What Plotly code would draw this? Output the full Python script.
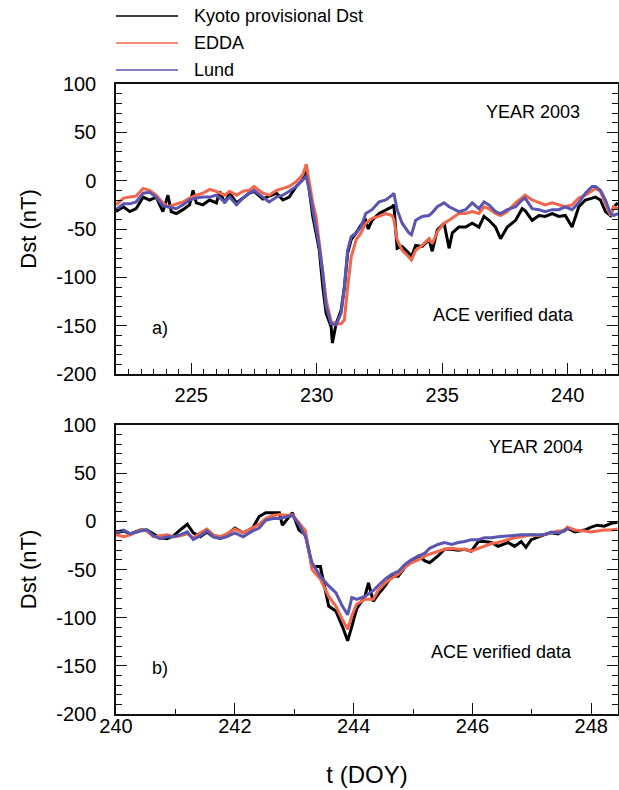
import plotly.graph_objects as go

# ---------------- DATA: YEAR 2003 (panel a) ----------------
t03_kyoto = [222.0, 222.3, 222.55, 222.8, 223.08, 223.34, 223.6, 223.87, 224.07, 224.2, 224.4, 224.67,
             224.93, 225.07, 225.2, 225.46, 225.73, 226.0, 226.13, 226.33, 226.53, 226.8, 227.06, 227.3,
             227.5, 227.85, 228.1, 228.4, 228.65, 228.9, 229.18, 229.44, 229.58, 229.7, 229.84, 229.97,
             230.1, 230.24, 230.37, 230.57, 230.62, 230.77, 230.97, 231.1, 231.23, 231.37, 231.57, 231.76,
             231.95, 232.05, 232.2, 232.48, 232.75, 233.0, 233.07, 233.2, 233.4, 233.67, 233.77, 233.94,
             234.2, 234.47, 234.6, 234.8, 235.07, 235.27, 235.4, 235.66, 235.93, 236.19, 236.46, 236.66,
             236.86, 237.12, 237.32, 237.59, 237.92, 238.18, 238.3, 238.58, 238.85, 239.1, 239.38, 239.64,
             239.9, 240.17, 240.44, 240.7, 240.97, 241.1, 241.3, 241.5, 241.7, 241.83, 242.0]
dst03_kyoto = [-32, -27, -32, -29, -17, -20, -17, -32, -15, -32, -34, -30,
               -25, -10, -23, -25, -20, -23, -11, -23, -13, -23, -18, -13,
               -11, -19, -16, -13, -20, -17, -6, 1, 14, -10, -37, -54,
               -72, -110, -137, -151, -168, -148, -134, -110, -75, -61, -54, -46,
               -41, -50, -41, -34, -30, -27, -25, -70, -68, -75, -79, -67,
               -68, -61, -73, -51, -44, -70, -54, -48, -48, -44, -48, -37,
               -41, -48, -60, -48, -41, -29, -31, -41, -36, -37, -34, -37,
               -36, -48, -27, -20, -18, -17, -20, -32, -36, -27, -23]

t03_model = [222.0, 222.3, 222.55, 222.8, 223.08, 223.34, 223.6, 223.87, 224.07, 224.4, 224.67, 224.93,
             225.2, 225.46, 225.73, 226.0, 226.33, 226.53, 226.8, 227.06, 227.3, 227.5, 227.85, 228.1,
             228.4, 228.65, 228.9, 229.18, 229.44, 229.58, 229.7, 229.84, 229.97, 230.1, 230.24, 230.37,
             230.57, 230.77, 230.97, 231.1, 231.23, 231.37, 231.57, 231.76, 231.95, 232.2, 232.48, 232.75,
             233.0, 233.07, 233.2, 233.4, 233.67, 233.77, 233.94, 234.2, 234.47, 234.6, 234.8, 235.07,
             235.27, 235.66, 235.93, 236.19, 236.46, 236.66, 236.86, 237.12, 237.32, 237.59, 237.92, 238.18,
             238.3, 238.58, 238.85, 239.1, 239.38, 239.64, 239.9, 240.17, 240.44, 240.7, 240.97, 241.1,
             241.3, 241.5, 241.7, 241.83, 242.0]
dst03_edda = [-25, -18, -17, -16, -8, -10, -15, -23, -27, -24, -22, -18,
              -15, -13, -9, -11, -15, -11, -15, -11, -10, -6, -13, -15,
              -10, -8, -6, -1, 6, 17, -3, -23, -37, -65, -92, -123,
              -146, -148, -148, -144, -110, -79, -61, -54, -44, -39, -37, -34,
              -36, -40, -61, -72, -79, -82, -72, -67, -60, -65, -53, -44,
              -41, -34, -34, -32, -34, -27, -29, -34, -36, -32, -23, -17,
              -15, -20, -23, -25, -23, -25, -27, -25, -18, -15, -10, -8,
              -11, -23, -36, -27, -29]
dst03_lund = [-30, -24, -24, -22, -13, -12, -17, -26, -27, -29, -25, -20,
              -18, -17, -17, -15, -22, -17, -25, -18, -13, -10, -17, -22,
              -17, -15, -11, -6, 1, 4, -10, -30, -51, -68, -96, -130,
              -148, -149, -137, -110, -72, -58, -54, -48, -34, -30, -22, -20,
              -15, -13, -30, -44, -54, -56, -41, -37, -36, -33, -27, -23,
              -27, -32, -30, -23, -29, -22, -25, -32, -34, -30, -27, -20,
              -18, -29, -30, -32, -30, -30, -27, -30, -23, -13, -6, -6,
              -10, -20, -34, -36, -34]

# ---------------- DATA: YEAR 2004 (panel b) ----------------
t04_kyoto = [240.0, 240.13, 240.24, 240.41, 240.52, 240.63, 240.74, 240.86, 240.97, 241.08, 241.2, 241.3,
             241.42, 241.53, 241.64, 241.75, 241.86, 242.0, 242.14, 242.3, 242.41, 242.52, 242.64, 242.75,
             242.8, 242.89, 242.97, 243.08, 243.19, 243.3, 243.44, 243.58, 243.7, 243.81, 243.9, 243.97,
             244.05, 244.19, 244.25, 244.33, 244.41, 244.53, 244.64, 244.75, 244.86, 244.97, 245.09, 245.2,
             245.28, 245.42, 245.53, 245.65, 245.76, 245.87, 245.98, 246.1, 246.2, 246.32, 246.43, 246.6,
             246.71, 246.82, 246.9, 246.99, 247.1, 247.2, 247.33, 247.44, 247.55, 247.6, 247.72, 247.89,
             248.0, 248.1, 248.22, 248.34, 248.44]
dst04_kyoto = [-12, -10, -13, -9, -9, -13, -17, -18, -15, -9, -3, -12,
               -16, -11, -16, -17, -14, -7, -12, -7, 5, 9, 9, 9,
               -4, 3, 9, -9, -14, -47, -47, -88, -93, -109, -124, -109,
               -91, -78, -64, -83, -76, -67, -57, -57, -48, -41, -36, -41,
               -43, -36, -29, -29, -30, -29, -31, -21, -21, -22, -26, -22,
               -26, -21, -27, -19, -16, -14, -12, -13, -9, -7, -11, -9,
               -6, -4, -5, -2, -1]

t04_edda = [240.0, 240.13, 240.24, 240.41, 240.52, 240.63, 240.74, 240.86, 240.97, 241.08, 241.2, 241.3,
            241.42, 241.53, 241.64, 241.75, 241.86, 242.0, 242.14, 242.3, 242.41, 242.52, 242.64, 242.75,
            242.89, 242.97, 243.08, 243.19, 243.3, 243.44, 243.58, 243.7, 243.81, 243.9, 243.97, 244.05,
            244.19, 244.33, 244.41, 244.53, 244.64, 244.75, 244.86, 244.97, 245.09, 245.2, 245.28, 245.42,
            245.53, 245.65, 245.76, 245.87, 245.98, 246.1, 246.2, 246.32, 246.43, 246.6, 246.71, 246.82,
            246.9, 246.99, 247.1, 247.2, 247.33, 247.44, 247.55, 247.6, 247.72, 247.89, 248.0, 248.1,
            248.22, 248.34, 248.44]
dst04_edda = [-14, -16, -14, -9, -10, -16, -15, -14, -16, -15, -13, -17,
              -12, -8, -14, -16, -13, -8, -12, -7, -3, 3, 6, 7,
              6, 7, -2, -10, -50, -60, -78, -88, -102, -112, -98, -86,
              -81, -81, -72, -64, -59, -55, -48, -43, -40, -36, -34, -31,
              -29, -28, -29, -29, -31, -28, -26, -23, -22, -19, -17, -16,
              -15, -14, -15, -14, -12, -10, -10, -6, -9, -10, -11, -10,
              -9, -9, -8]

t04_lund = [240.0, 240.13, 240.24, 240.41, 240.52, 240.63, 240.74, 240.86, 240.97, 241.08, 241.2, 241.3,
            241.42, 241.53, 241.64, 241.75, 241.86, 242.0, 242.14, 242.3, 242.41, 242.52, 242.64, 242.75,
            242.89, 242.97, 243.08, 243.19, 243.3, 243.44, 243.58, 243.7, 243.81, 243.9, 243.97, 244.05,
            244.19, 244.33, 244.41, 244.53, 244.64, 244.75, 244.86, 244.97, 245.09, 245.2, 245.28, 245.42,
            245.53, 245.65, 245.76, 245.87, 245.98, 246.1, 246.2, 246.32, 246.43, 246.6, 246.71, 246.82,
            246.9, 246.99, 247.1, 247.2, 247.33, 247.44, 247.55, 247.62]
dst04_lund = [-11, -9, -13, -10, -9, -15, -18, -16, -16, -14, -11, -19,
              -15, -10, -16, -18, -16, -12, -16, -10, -7, 1, 3, 3,
              5, 6, -3, -16, -43, -57, -67, -74, -88, -97, -79, -81,
              -78, -72, -67, -60, -55, -52, -45, -40, -36, -33, -28, -24,
              -22, -24, -22, -21, -19, -19, -17, -17, -16, -15, -14, -14,
              -14, -14, -14, -14, -11, -12, -10, -7]

series_names = ["Kyoto provisional Dst", "EDDA", "Lund"]
x_ticks_a = [225, 230, 235, 240]
x_ticks_b = [240, 242, 244, 246, 248]
y_ticks = [100, 50, 0, -50, -100, -150, -200]
y_ticklabels = ["100", "50", "0", "-50", "-100", "-150", "-200"]

# ---------------- STYLE ----------------
FONT = "Liberation Sans, Arial, Helvetica, sans-serif"
C_BLACK = "#000000"
C_RED = "#F2664B"
C_BLUE = "#5B55B2"
colors = [C_BLACK, C_RED, C_BLUE]
LW = 3.0

fig = go.Figure()

panel_a = [(t03_kyoto, dst03_kyoto), (t03_model, dst03_edda), (t03_model, dst03_lund)]
panel_b = [(t04_kyoto, dst04_kyoto), (t04_edda, dst04_edda), (t04_lund, dst04_lund)]

for (tx, vy), name, col in zip(panel_a, series_names, colors):
    fig.add_trace(go.Scatter(x=tx, y=vy, mode="lines", name=name, showlegend=False,
                             line=dict(color=col, width=LW), xaxis="x", yaxis="y"))
for (tx, vy), name, col in zip(panel_b, series_names, colors):
    fig.add_trace(go.Scatter(x=tx, y=vy, mode="lines", name=name, showlegend=False,
                             line=dict(color=col, width=LW), xaxis="x2", yaxis="y2"))

W, H = 619, 790
ML, MR, MT, MB = 116, 1, 84, 76
PW = W - ML - MR
PH = H - MT - MB


def px_x(px):
    return (px - ML) / PW


def px_y(py):
    return (H - MB - py) / PH


axis_common = dict(showgrid=False, zeroline=False, showline=True, linecolor="#111111",
                   linewidth=1.5, ticks="inside", tickcolor="#111111", tickwidth=1.2,
                   tickfont=dict(family=FONT, size=20, color="#000000"))

ydom_a = [px_y(374), 1.0]
ydom_b = [0.0, px_y(425)]

y_common = dict(range=[-200, 100], tickvals=y_ticks, ticktext=y_ticklabels, ticklen=11,
                mirror="ticks", ticklabelstandoff=14,
                minor=dict(dtick=10, tick0=0, ticklen=6, ticks="inside", tickcolor="#111111", tickwidth=1),
                title=dict(text="Dst (nT)", font=dict(family=FONT, size=22), standoff=14))

fig.update_layout(
    width=W, height=H,
    margin=dict(l=ML, r=MR, t=MT, b=MB, autoexpand=False),
    paper_bgcolor="white", plot_bgcolor="white",
    font=dict(family=FONT, size=18, color="#000000"),
    showlegend=False,
    xaxis=dict(**axis_common, domain=[0, 1], anchor="y", range=[222, 242],
               tickvals=x_ticks_a, ticklen=11, mirror=True, ticklabelstandoff=2,
               minor=dict(dtick=0.5, tick0=0, ticklen=5, ticks="inside", tickcolor="#111111", tickwidth=1)),
    yaxis=dict(**axis_common, domain=ydom_a, anchor="x", **y_common),
    xaxis2=dict(**axis_common, domain=[0, 1], anchor="y2", range=[240, 248.45],
                tickvals=x_ticks_b, ticklen=11, mirror=True, ticklabelstandoff=-7,
                minor=dict(dtick=1, tick0=0, ticklen=5, ticks="inside", tickcolor="#111111", tickwidth=1),
                title=dict(text="t (DOY)", font=dict(family=FONT, size=24), standoff=30)),
    yaxis2=dict(**axis_common, domain=ydom_b, anchor="x2", **y_common),
)

# panel annotations
ann = [
    ("YEAR 2003", 533, 112),
    ("ACE verified data", 503, 315),
    ("a)", 160, 328),
    ("YEAR 2004", 536, 447),
    ("ACE verified data", 501, 652),
    ("b)", 160, 668),
]
for text, x, y in ann:
    fig.add_annotation(text=text, x=px_x(x), y=px_y(y), xref="paper", yref="paper",
                       xanchor="center", yanchor="middle", showarrow=False,
                       font=dict(family=FONT, size=18, color="#000000"))

# legend (drawn above the top panel)
leg_y = [16, 43, 70]
for name, col, y in zip(series_names, colors, leg_y):
    fig.add_shape(type="line", xref="paper", yref="paper",
                  x0=px_x(116), x1=px_x(178), y0=px_y(y), y1=px_y(y),
                  line=dict(color=col, width=1.6))
    fig.add_annotation(text=name, x=px_x(192), y=px_y(y), xref="paper", yref="paper",
                       xanchor="left", yanchor="middle", showarrow=False,
                       font=dict(family=FONT, size=18, color="#000000"))

fig.write_html("out.html", config={"displayModeBar": False},
               post_script="document.body.style.margin='0';document.body.style.padding='0';")
